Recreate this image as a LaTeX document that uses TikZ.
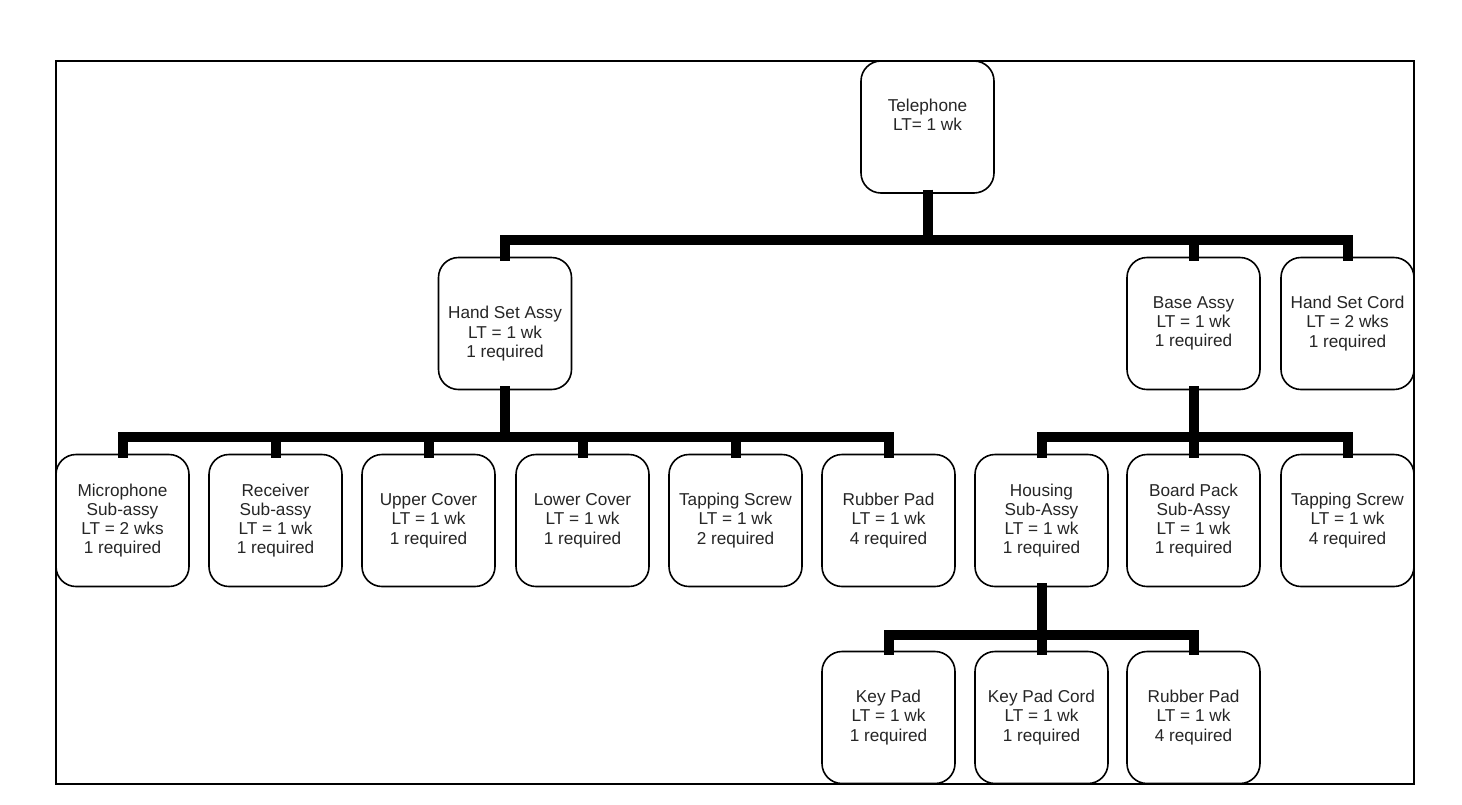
\documentclass[tikz,border=0pt]{standalone}
\usepackage{fontspec}
\setmainfont{Liberation Sans}
\begin{document}
\begin{tikzpicture}[x=1pt,y=-1pt,
  part/.style={draw=black, line width=1.6pt, rounded corners=20pt, fill=white,
    minimum width=133pt, minimum height=132pt, inner sep=0pt, align=center,
    text=black!85, font=\fontsize{17.2}{19.3}\selectfont},
  conn/.style={draw=black, line width=10pt, line join=miter}]
\useasboundingbox (0,0) rectangle (1462,804);
\draw[line width=1.6pt] (56,61) rectangle (1414,784);
% level 0
\node[part] (tel) at (927.5,127) {Telephone\\LT= 1 wk\\\strut};
% level 1
\node[part] (hsa) at (505,323.5) {\strut\\Hand Set Assy\\LT = 1 wk\\1 required};
\node[part] (base) at (1193.5,323.5) {Base Assy\\LT = 1 wk\\1 required};
\node[part] (cord) at (1347.5,323.5) {Hand Set Cord\\LT = 2 wks\\1 required};
% level 2
\node[part] (mic) at (122.5,520.5) {Microphone\\Sub-assy\\LT = 2 wks\\1 required};
\node[part] (rec) at (275.5,520.5) {Receiver\\Sub-assy\\LT = 1 wk\\1 required};
\node[part] (upc) at (428.5,520.5) {Upper Cover\\LT = 1 wk\\1 required};
\node[part] (loc) at (582.5,520.5) {Lower Cover\\LT = 1 wk\\1 required};
\node[part] (tsa) at (735.5,520.5) {Tapping Screw\\LT = 1 wk\\2 required};
\node[part] (rpa) at (888.5,520.5) {Rubber Pad\\LT = 1 wk\\4 required};
\node[part] (hou) at (1041.5,520.5) {Housing\\Sub-Assy\\LT = 1 wk\\1 required};
\node[part] (bpk) at (1193.5,520.5) {Board Pack\\Sub-Assy\\LT = 1 wk\\1 required};
\node[part] (tsb) at (1347.5,520.5) {Tapping Screw\\LT = 1 wk\\4 required};
% level 3
\node[part] (kp) at (888.5,717.5) {Key Pad\\LT = 1 wk\\1 required};
\node[part] (kpc) at (1041.5,717.5) {Key Pad Cord\\LT = 1 wk\\1 required};
\node[part] (rpb) at (1193.5,717.5) {Rubber Pad\\LT = 1 wk\\4 required};
% connectors
\foreach \c in {hsa,base,cord}
  \draw[conn] ([yshift=4pt]tel.south) |- (\c.north |- 0,240) -- ([yshift=-4pt]\c.north);
\foreach \c in {mic,rec,upc,loc,tsa,rpa}
  \draw[conn] ([yshift=4pt]hsa.south) |- (\c.north |- 0,437) -- ([yshift=-4pt]\c.north);
\foreach \c in {hou,bpk,tsb}
  \draw[conn] ([yshift=4pt]base.south) |- (\c.north |- 0,437) -- ([yshift=-4pt]\c.north);
\foreach \c in {kp,kpc,rpb}
  \draw[conn] ([yshift=4pt]hou.south) |- (\c.north |- 0,635) -- ([yshift=-4pt]\c.north);
\end{tikzpicture}
\end{document}
